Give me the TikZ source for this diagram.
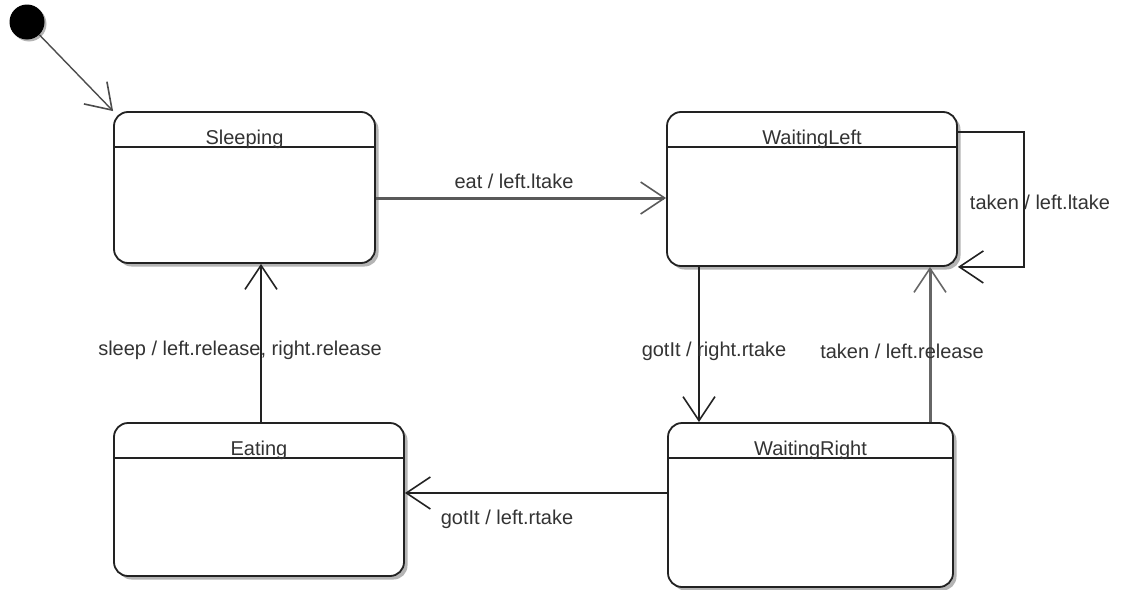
\documentclass[tikz,border=0pt]{standalone}
\usepackage{fontspec}
\setmainfont{Liberation Sans}
\usetikzlibrary{arrows.meta,shadows,calc}
\definecolor{ink}{HTML}{222222}
\definecolor{labelink}{HTML}{333333}
\definecolor{shade}{HTML}{B4B4B4}
\begin{document}
\begin{tikzpicture}[x=1pt,y=-1pt,
  statebox/.style={draw=ink,line width=1.8pt,fill=white,rounded corners=14pt,
    rectangle,inner sep=0pt,
    drop shadow={shadow xshift=3.5pt,shadow yshift=-3.5pt,fill=shade,opacity=1}},
  title/.style={anchor=base,font=\fontsize{20}{24}\selectfont,text=labelink,inner sep=0pt},
  lbl/.style={font=\fontsize{20}{24}\selectfont,text=labelink,inner sep=0pt},
  edge/.style={draw=ink,line width=1.8pt,
    -{Straight Barb[length=24pt,width=32pt,line width=1.6pt]}},
  grayedge/.style={edge,draw=black!60,line width=3pt}]
  \useasboundingbox (0,0) rectangle (1123,589);

  % initial pseudo-state
  \node[circle,fill=black,minimum size=35pt,inner sep=0pt,
        drop shadow={shadow xshift=2pt,shadow yshift=-2pt,fill=shade,opacity=1}] (init) at (27,22) {};

  % states
  \node[statebox,minimum width=261pt,minimum height=151pt] (s)  at (244.5,187.5) {};
  \node[statebox,minimum width=290pt,minimum height=154pt] (wl) at (812,189) {};
  \node[statebox,minimum width=290pt,minimum height=153pt] (e)  at (259,499.5) {};
  \node[statebox,minimum width=285pt,minimum height=164pt] (wr) at (810.5,505) {};

  % name compartments
  \foreach \n in {s,wl,e,wr}
    \draw[ink,line width=1.8pt] ($(\n.north west)+(0,36)$) -- ($(\n.north east)+(0,36)$);
  \node[title] (ts)  at ($(s.north)+(0,33)$)  {Sleeping};
  \node[title] (twl) at ($(wl.north)+(0,33)$) {WaitingLeft};
  \node[title] (te)  at ($(e.north)+(0,33)$)  {Eating};
  \node[title] (twr) at ($(wr.north)+(0,33)$) {WaitingRight};

  % transitions
  \draw[edge,draw=black!70,line width=1.4pt] (init) -- (s.north west);
  \draw[edge,draw=black!65,line width=3pt] (s.east |- 0,198) -- (wl.west |- 0,198);
  \coordinate (loopA) at (1024,132);
  \coordinate (loopB) at (1024,267);
  \draw[edge] (wl.east |- loopA) -- (loopA) -- (loopB) -- (wl.south east);
  \draw[edge] (wl.south -| 699,0) -- (wr.north -| 699,0);
  \draw[grayedge] (wr.north -| 930,0) -- (wl.south -| 930,0);
  \draw[edge] (wr.west |- 0,493) -- (e.east |- 0,493);
  \draw[edge] (e.north -| 261,0) -- (s.south -| 261,0);

  % transition labels
  \node[lbl] (l1) at (514,181)  {eat / left.ltake};
  \node[lbl] (l2) at (1040,202) {taken / left.ltake};
  \node[lbl] (l3) at (714,351)  {gotIt / right.rtake};
  \node[lbl] (l4) at (902,351)  {taken / left.release};
  \node[lbl] (l5) at (507,519)  {gotIt / left.rtake};
  \node[lbl] (l6) at (240,350)  {sleep / left.release, right.release};
\end{tikzpicture}
\end{document}
